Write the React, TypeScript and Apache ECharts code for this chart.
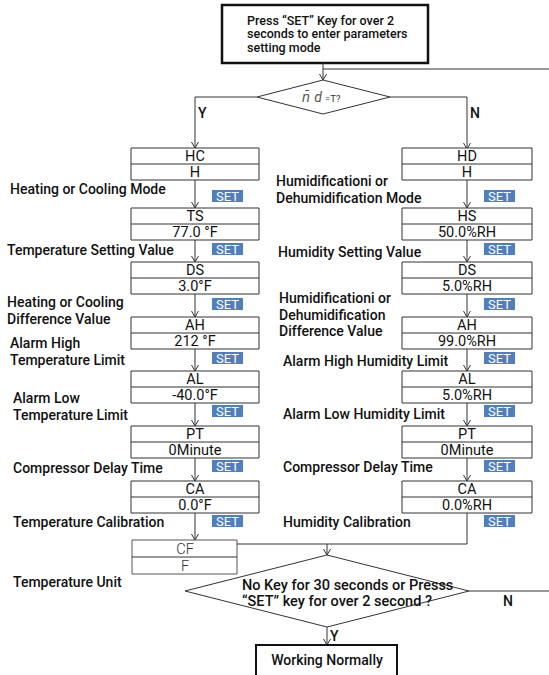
import React, { useEffect, useRef } from "react";
import * as echarts from "echarts";

// ---- content ----
const startText = ["Press “SET” Key for over 2", "seconds to enter parameters", "setting mode"];
const leftCodes = ["HC", "TS", "DS", "AH", "AL", "PT", "CA"];
const leftValues = ["H", "77.0 °F", "3.0°F", "212 °F", "-40.0°F", "0Minute", "0.0°F"];
const leftLabels = [
  ["Heating or Cooling Mode"],
  ["Temperature Setting Value"],
  ["Heating or Cooling", "Difference Value"],
  ["Alarm High", "Temperature Limit"],
  ["Alarm Low", "Temperature Limit"],
  ["Compressor Delay Time"],
  ["Temperature Calibration"],
  ["Temperature Unit"],
];
const rightCodes = ["HD", "HS", "DS", "AH", "AL", "PT", "CA"];
const rightValues = ["H", "50.0%RH", "5.0%RH", "99.0%RH", "5.0%RH", "0Minute", "0.0%RH"];
const rightLabels = [
  ["Humidificationi or", "Dehumidification Mode"],
  ["Humidity Setting Value"],
  ["Humidificationi or", "Dehumidification", "Difference Value"],
  ["Alarm High Humidity Limit"],
  ["Alarm Low Humidity Limit"],
  ["Compressor Delay Time"],
  ["Humidity Calibration"],
];
const unitCode = "CF";
const unitValue = "F";
const exitText = ["No Key for 30 seconds or Presss", "“SET” key for over 2 second ?"];
const endText = "Working Normally";
const setText = "SET";

// ---- layout ----
const LINE = "#333";
const FONT = "Roboto, 'Liberation Sans', sans-serif";
const boxTops = [148, 208, 262, 317, 371, 426, 481];
const setTops = [190, 243, 298, 352, 405, 460, 515];
const BOX_H = 32;
const L = { x: 131, w: 128, cx: 195, setX: 212 };
const R = { x: 402, w: 130, cx: 467, setX: 484 };
const leftLabelPos = [
  [10, 189], [7, 250], [7, 302], [10, 343], [13, 398], [13, 468], [13, 522], [13, 582],
];
const rightLabelPos = [
  [276, 181], [278, 252], [279, 298], [283, 361], [283, 414], [283, 467], [283, 522],
];

function line(pts: number[][], w = 1): any {
  return { type: "polyline", shape: { points: pts }, style: { stroke: LINE, lineWidth: w, fill: null } };
}
function arrow(x: number, y1: number, y2: number): any[] {
  return [
    line([[x, y1], [x, y2]]),
    line([[x - 3.5, y2 - 6], [x, y2], [x + 3.5, y2 - 6]]),
  ];
}
function txt(x: number, y: number, t: string, opts: any = {}): any {
  return {
    type: "text",
    x,
    y,
    style: {
      text: t,
      fill: opts.fill || "#111",
      font: `${opts.style || "normal"} ${opts.weight || 500} ${opts.size || 13}px ${FONT}`,
      align: opts.align || "left",
      verticalAlign: opts.vAlign || "middle",
      lineHeight: opts.lineHeight,
    },
  };
}

function column(col: any, codes: string[], values: string[], labels: string[][], pos: number[][]) {
  const els: any[] = [];
  codes.forEach((c, i) => {
    const top = boxTops[i];
    els.push({
      type: "rect",
      shape: { x: col.x, y: top, width: col.w, height: BOX_H },
      style: { fill: "#fff", stroke: LINE, lineWidth: 1 },
    });
    els.push(line([[col.x, top + BOX_H / 2], [col.x + col.w, top + BOX_H / 2]]));
    els.push(txt(col.cx, top + 8, c, { align: "center", weight: 400, size: 14.5 }));
    els.push(txt(col.cx, top + 24, values[i], { align: "center", weight: 400, size: 14.5 }));
    if (i < codes.length - 1) els.push(...arrow(col.cx, top + BOX_H, boxTops[i + 1]));
    els.push({
      type: "rect",
      shape: { x: col.setX, y: setTops[i], width: 31, height: 12 },
      style: { fill: "#4f7fbd" },
    });
    els.push(txt(col.setX + 15.5, setTops[i] + 6.5, setText, { align: "center", fill: "#fff", weight: 400, size: 13 }));
  });
  labels.forEach((lines, i) => {
    els.push(
      txt(pos[i][0], pos[i][1] - 8.25, lines.join("\n"), { weight: 500, size: 14, vAlign: "top", lineHeight: 16.5 })
    );
  });
  return els;
}

export default function App() {
  const ref = useRef<HTMLDivElement>(null);
  useEffect(() => {
    if (!ref.current) return;
    const chart = echarts.init(ref.current, null, { renderer: "svg" });
    const els: any[] = [];
    // start box
    els.push({
      type: "rect",
      shape: { x: 222, y: 5, width: 206, height: 58 },
      style: { fill: "#fff", stroke: "#111", lineWidth: 2.5 },
    });
    els.push(txt(247, 13.5, startText.join("\n"), { weight: 500, size: 12.5, vAlign: "top", lineHeight: 13.5 }));
    els.push(...arrow(323, 63, 80));
    els.push(line([[323, 69], [549, 69]]));
    // decision 1
    els.push({
      type: "polygon",
      shape: { points: [[257, 97], [323, 80], [390, 97], [323, 114]] },
      style: { fill: "#fff", stroke: LINE, lineWidth: 1 },
    });
    els.push(txt(306, 97, "n̄", { style: "italic", weight: 400, size: 14, fill: "#555", align: "center" }));
    els.push(txt(318, 97, "d", { style: "italic", weight: 400, size: 14, fill: "#555", align: "center" }));
    els.push(txt(325, 98, "=T?", { weight: 400, size: 9.5, fill: "#333" }));
    els.push(line([[257, 97], [195, 97]]));
    els.push(...arrow(195, 97, 148));
    els.push(line([[390, 97], [467, 97]]));
    els.push(...arrow(467, 97, 149));
    els.push(txt(198, 113, "Y", { weight: 500, size: 14 }));
    els.push(txt(470, 113, "N", { weight: 500, size: 14 }));
    // columns
    els.push(...column(L, leftCodes, leftValues, leftLabels, leftLabelPos));
    els.push(...column(R, rightCodes, rightValues, rightLabels, rightLabelPos));
    // unit box
    els.push(...arrow(195, 513, 540));
    els.push({
      type: "rect",
      shape: { x: 132, y: 540, width: 105, height: 34 },
      style: { fill: "#fff", stroke: "#555", lineWidth: 1 },
    });
    els.push(line([[132, 557], [237, 557]]));
    els.push(txt(185, 549, unitCode, { align: "center", weight: 300, size: 14.5, fill: "#333" }));
    els.push(txt(185, 566, unitValue, { align: "center", weight: 300, size: 14.5, fill: "#333" }));
    // right merge
    els.push(line([[467, 513], [467, 544], [237, 544]]));
    els.push(...arrow(327, 544, 555));
    // decision 2
    els.push({
      type: "polygon",
      shape: { points: [[185, 591], [327, 555], [469, 591], [327, 627]] },
      style: { fill: "#fff", stroke: LINE, lineWidth: 1 },
    });
    els.push(txt(242, 578, exitText.join("\n"), { weight: 500, size: 14.5, vAlign: "top", lineHeight: 15.5 }));
    els.push(line([[469, 591], [549, 591]]));
    els.push(txt(503, 601, "N", { weight: 500, size: 14 }));
    els.push(...arrow(327, 627, 645));
    els.push(txt(330, 636, "Y", { weight: 500, size: 14 }));
    // end box
    els.push({
      type: "rect",
      shape: { x: 256, y: 645, width: 141, height: 40 },
      style: { fill: "#fff", stroke: "#111", lineWidth: 2 },
    });
    els.push(txt(327, 660, endText, { align: "center", weight: 500, size: 14 }));

    chart.setOption({ animation: false, backgroundColor: "#fff", graphic: { elements: els } });
    return () => chart.dispose();
  }, []);
  return (
    <div
      ref={ref}
      style={{ position: "fixed", left: 0, top: 0, width: 549, height: 675, background: "#fff" }}
    />
  );
}
